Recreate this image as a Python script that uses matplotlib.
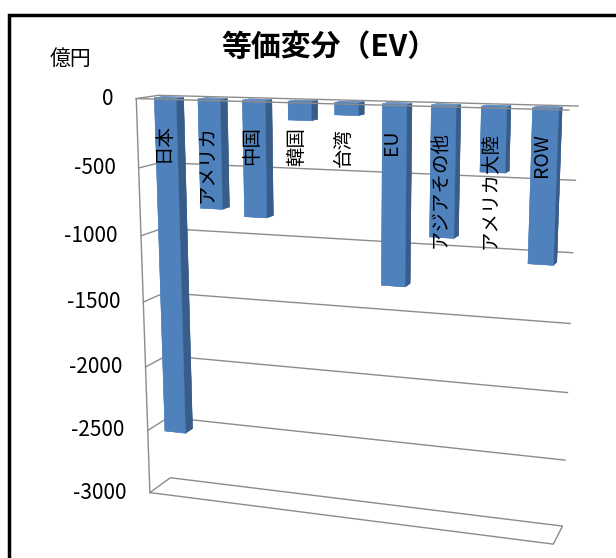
import matplotlib
matplotlib.use("Agg")
import matplotlib.pyplot as plt
import numpy as np
from matplotlib.patches import Rectangle
from matplotlib.transforms import offset_copy
from mpl_toolkits.mplot3d import proj3d

plt.rcParams["font.family"] = ["Noto Sans CJK JP", "DejaVu Sans"]

regions = ["日本", "アメリカ", "中国", "韓国", "台湾", "EU", "アジアその他", "アメリカ大陸", "ROW"]
ev = [-2530, -790, -835, -130, -85, -1270, -905, -440, -1050]
value_ticks = [0, -500, -1000, -1500, -2000, -2500, -3000]

FRONT = "#4F81BD"
SIDE = "#385D8A"
TOP = "#7096C8"
LINE = "#8C8C8C"

fig = plt.figure(figsize=(6.16, 5.58), dpi=100)
ax = fig.add_axes([0.117, -0.057, 0.877, 0.968], projection="3d", computed_zorder=False)
ax.set_proj_type("persp", focal_length=0.47)
ax.view_init(elev=13, azim=-71)

n = len(regions)
xmin, xmax = -0.5, n - 0.5
ymin, ymax = 0.0, 1.0
zmin, zmax = value_ticks[-1], value_ticks[0]
ax.set_xlim(xmin, xmax)
ax.set_ylim(ymin, ymax)
ax.set_zlim(zmin, zmax)
ax.set_box_aspect((8.85, 1.0, 8.5), zoom=1.085)
ax.set_axis_off()

# left wall + back wall gridlines (L-shaped, as in Excel's 3-D charts)
for v in value_ticks[1:-1]:
    ax.plot([xmin, xmin, xmax], [ymin, ymax, ymax], [v, v, v], color=LINE, lw=1, zorder=1)
ax.plot([xmin, xmin, xmax], [ymin, ymax, ymax], [zmax] * 3, color=LINE, lw=1, zorder=1)
ax.plot([xmin, xmin], [ymin, ymin], [zmax, zmin], color=LINE, lw=1, zorder=1)
# floor
ax.plot([xmin, xmax, xmax, xmin, xmin], [ymin, ymin, ymax, ymax, ymin], [zmin] * 5,
        color=LINE, lw=1, zorder=1)

# bars
w, d = 0.5, 0.35
xs = np.arange(n) - w / 2
ys = np.full(n, 0.5 - d / 2)
zs = np.zeros(n)
faces = []
for _ in range(n):
    # bar3d face order: -z, +z, -y, +y, -x, +x (dz<0 so -z is the top)
    faces += [TOP, FRONT, FRONT, SIDE, FRONT, SIDE]
ax.bar3d(xs, ys, zs, np.full(n, w), np.full(n, d), ev, color=faces,
         edgecolor=faces, linewidth=0.3, shade=False, zorder=2)

# category axis line at 0, front edge
ax.plot([xmin, xmax], [ymin, ymin], [0, 0], color=LINE, lw=1, zorder=3)

# text is placed in 2-D at the projected positions
fig.canvas.draw()
M = ax.M

cat_tr = offset_copy(ax.transData, fig=fig, x=-6, y=-26, units="dots")
for i, name in enumerate(regions):
    px, py, _ = proj3d.proj_transform(i, 0.5, 0, M)
    ax.text2D(px, py, name, transform=cat_tr, rotation=90, ha="center", va="top",
              fontsize=14, zorder=4)

tick_tr = offset_copy(ax.transData, fig=fig, x=-23, y=0, units="dots")
for v in value_ticks:
    px, py, _ = proj3d.proj_transform(xmin, ymin, v, M)
    ax.text2D(px, py, f"{v}", transform=tick_tr, ha="right", va="center", fontsize=15,
              zorder=4)

fig.text(0.535, 0.915, "等価変分（EV）", ha="center", va="center", fontsize=21.5,
         fontweight="bold")
fig.text(0.081, 0.895, "億円", ha="left", va="center", fontsize=15)

fig.patches.append(Rectangle((9 / 616, -0.1), 1.2, 1 - 15 / 558 + 0.1,
                             transform=fig.transFigure, fill=False,
                             edgecolor="black", lw=2.5))

fig.savefig("out.png", dpi=100)
